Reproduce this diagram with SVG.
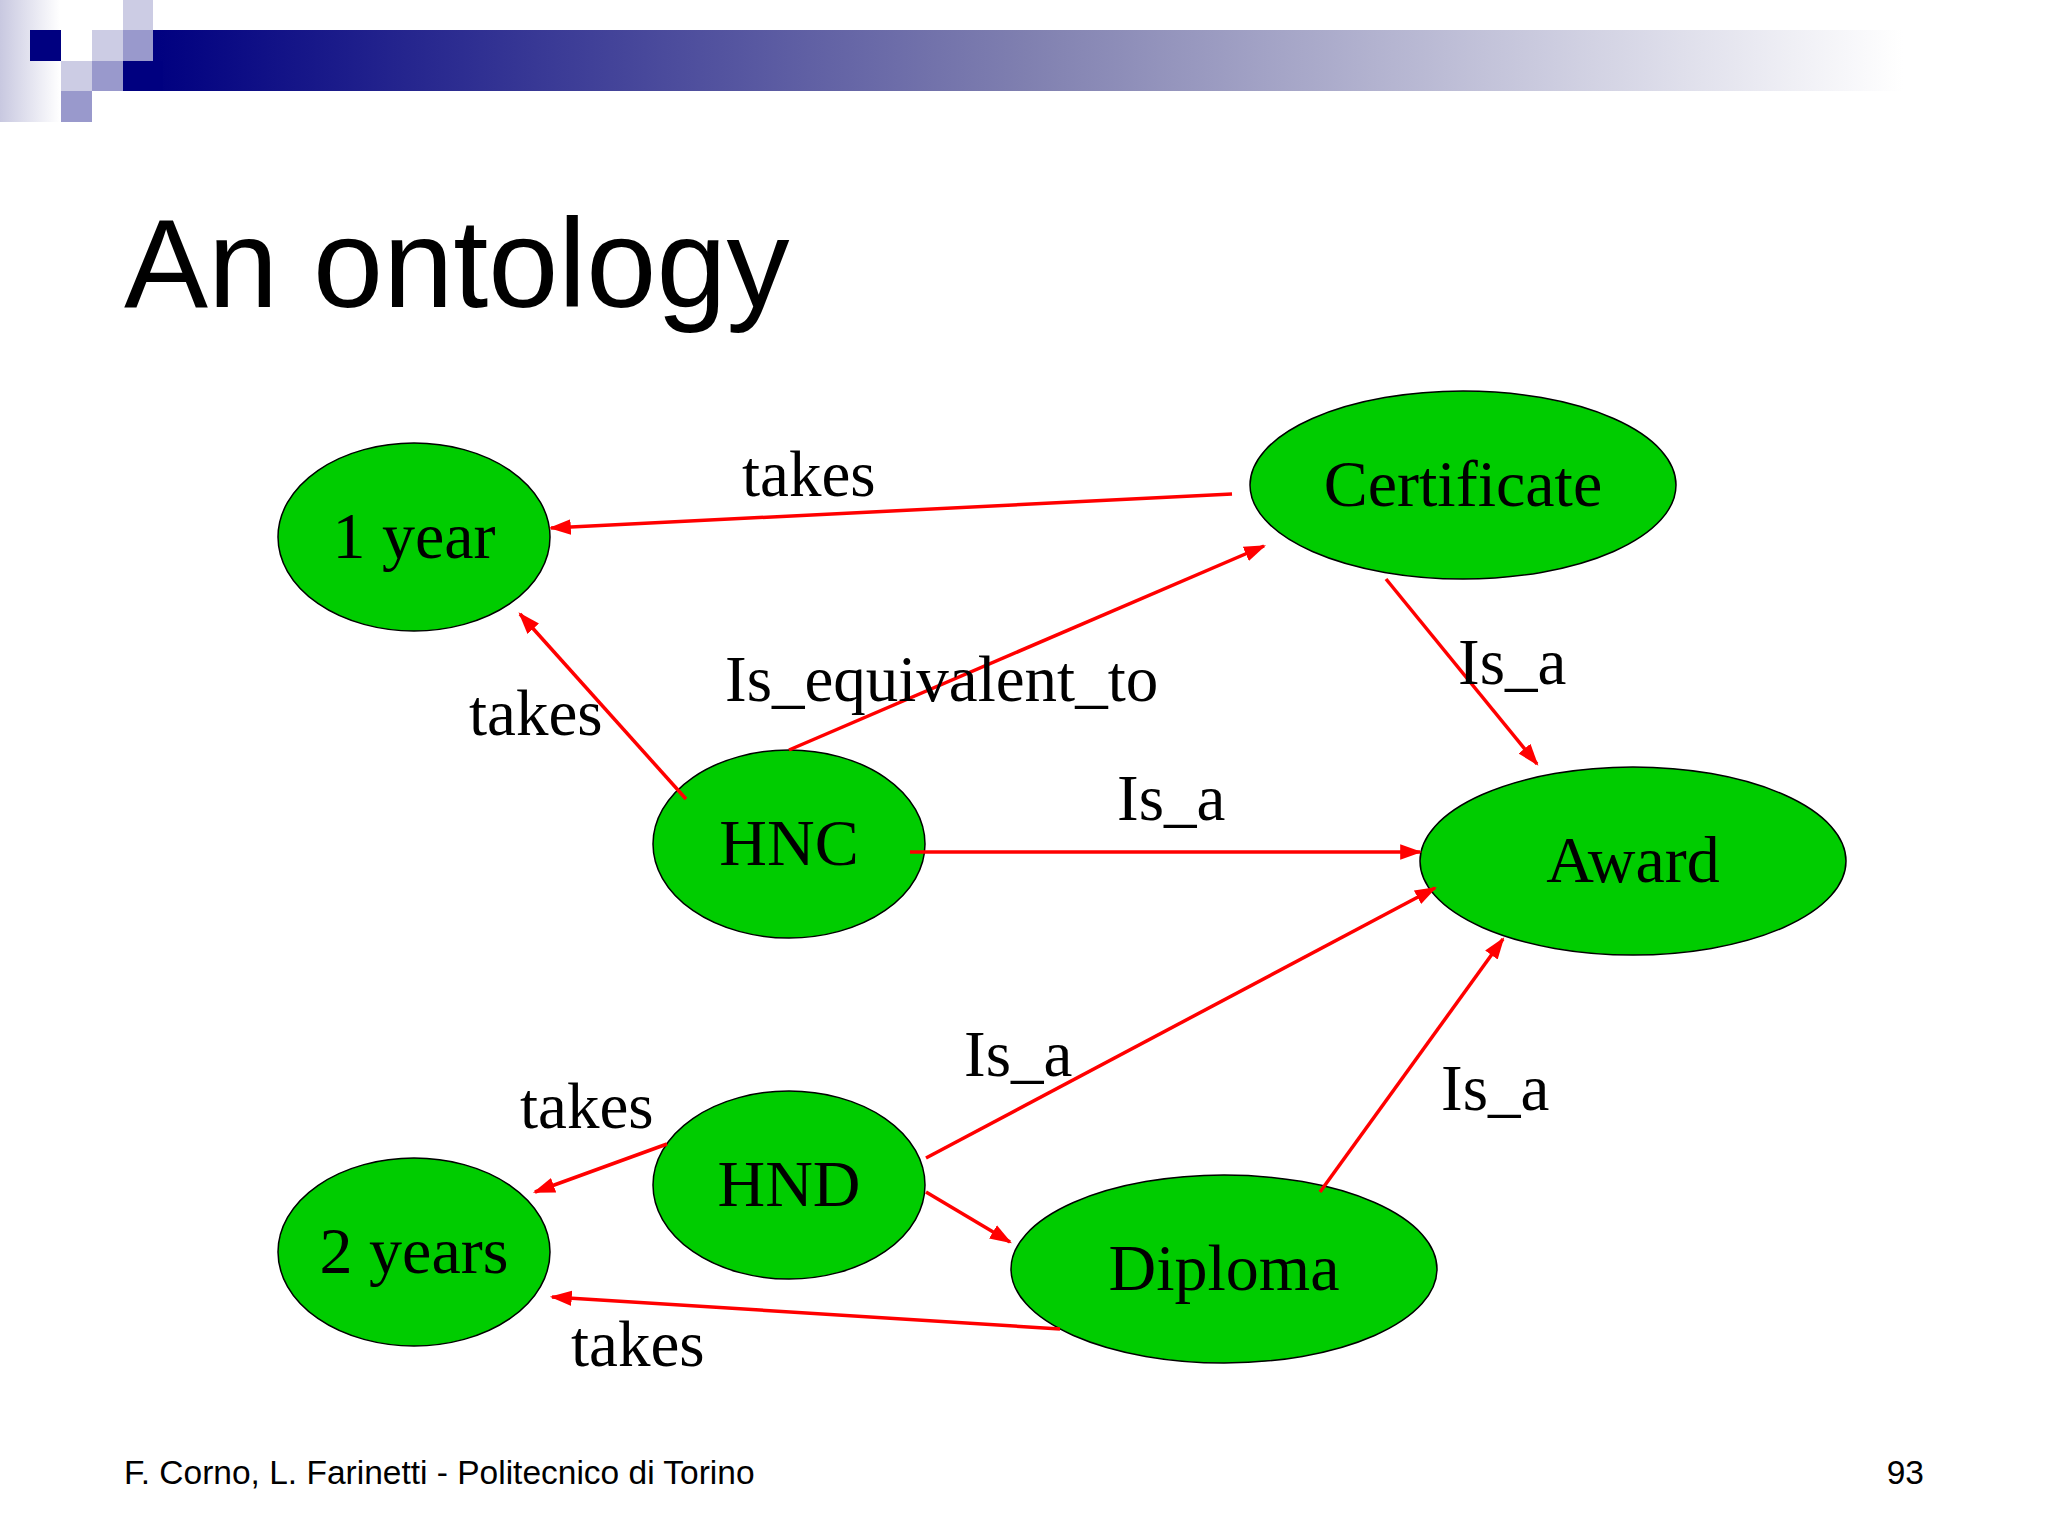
<svg xmlns="http://www.w3.org/2000/svg" width="2048" height="1536" viewBox="0 0 2048 1536">
<defs>
<linearGradient id="bar" x1="0" x2="1" y1="0" y2="0"><stop offset="0" stop-color="#000080"/><stop offset="0.5" stop-color="#8080b0"/><stop offset="1" stop-color="#ffffff"/></linearGradient>
<linearGradient id="strip" x1="0" x2="1" y1="0" y2="0"><stop offset="0" stop-color="#c8c8e0"/><stop offset="1" stop-color="#ffffff"/></linearGradient>
<marker id="a" viewBox="0 0 10 10" refX="9" refY="5" markerWidth="22" markerHeight="22" orient="auto" markerUnits="userSpaceOnUse"><path d="M0,1.5 L10,5 L0,8.5 z" fill="#ff0000"/></marker>
</defs>
<style>
.n{fill:#00cc00;stroke:#000;stroke-width:1.5}
.t{font-family:"Liberation Serif",serif;font-size:66px;fill:#000;text-anchor:middle}
.l{font-family:"Liberation Serif",serif;font-size:65px;fill:#000}
.e{stroke:#ff0000;stroke-width:3.5;fill:none;marker-end:url(#a)}
</style>
<rect width="2048" height="1536" fill="#fff"/>
<rect x="0" y="0" width="60" height="122" fill="url(#strip)"/>
<rect x="153" y="30" width="1750" height="61" fill="url(#bar)"/>
<rect x="123" y="61" width="40" height="30" fill="#000080"/>
<rect x="30" y="30" width="31" height="31" fill="#000080"/>
<rect x="123" y="0" width="30" height="30" fill="#ccccE4"/>
<rect x="92" y="30" width="31" height="31" fill="#ccccE4"/>
<rect x="123" y="30" width="30" height="31" fill="#9999cc"/>
<rect x="61" y="61" width="31" height="30" fill="#ccccE4"/>
<rect x="92" y="61" width="31" height="30" fill="#9999cc"/>
<rect x="61" y="91" width="31" height="31" fill="#9999cc"/>
<text x="124" y="307" font-family="Liberation Sans, Arial, sans-serif" font-size="126">An ontology</text>
<g id="n1year"><ellipse class="n" cx="414" cy="537" rx="136" ry="94"/><text class="t" x="414" y="558">1 year</text></g>
<g id="ncert"><ellipse class="n" cx="1463" cy="485" rx="213" ry="94"/><text class="t" x="1463" y="506">Certificate</text></g>
<g id="nhnc"><ellipse class="n" cx="789" cy="844" rx="136" ry="94"/><text class="t" x="789" y="865">HNC</text></g>
<g id="naward"><ellipse class="n" cx="1633" cy="861" rx="213" ry="94"/><text class="t" x="1633" y="882">Award</text></g>
<g id="nhnd"><ellipse class="n" cx="789" cy="1185" rx="136" ry="94"/><text class="t" x="789" y="1206">HND</text></g>
<g id="n2years"><ellipse class="n" cx="414" cy="1252" rx="136" ry="94"/><text class="t" x="414" y="1273">2 years</text></g>
<g id="ndiploma"><ellipse class="n" cx="1224" cy="1269" rx="213" ry="94"/><text class="t" x="1224" y="1290">Diploma</text></g>
<g id="edges">
<line class="e" x1="1232" y1="494" x2="551" y2="528"/>
<line class="e" x1="686" y1="799" x2="520" y2="614"/>
<line class="e" x1="789" y1="750" x2="1264" y2="546"/>
<line class="e" x1="1386" y1="579" x2="1537" y2="764"/>
<line class="e" x1="910" y1="852" x2="1420" y2="852"/>
<line class="e" x1="926" y1="1158" x2="1435" y2="888"/>
<line class="e" x1="1320" y1="1192" x2="1503" y2="939" stroke-width="5"/>
<line class="e" x1="667" y1="1144" x2="535" y2="1192"/>
<line class="e" x1="926" y1="1192" x2="1010" y2="1242"/>
<line class="e" x1="1060" y1="1329" x2="552" y2="1297"/>
</g>
<g id="labels">
<text class="l" x="742" y="496">takes</text>
<text class="l" x="469" y="735">takes</text>
<text class="l" x="725" y="701">Is_equivalent_to</text>
<text class="l" x="1458" y="684">Is_a</text>
<text class="l" x="1117" y="820">Is_a</text>
<text class="l" x="964" y="1076">Is_a</text>
<text class="l" x="1441" y="1110">Is_a</text>
<text class="l" x="520" y="1128">takes</text>
<text class="l" x="571" y="1366">takes</text>
</g>
<text x="124" y="1484" font-family="Liberation Sans, Arial, sans-serif" font-size="33.5">F. Corno, L. Farinetti - Politecnico di Torino</text>
<text x="1924" y="1484" font-family="Liberation Sans, Arial, sans-serif" font-size="33.5" text-anchor="end">93</text>
</svg>
